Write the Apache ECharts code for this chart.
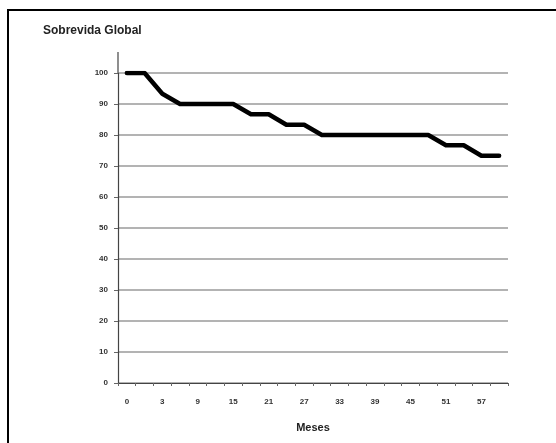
<!DOCTYPE html>
<html>
<head>
<meta charset="utf-8">
<script src="https://cdn.jsdelivr.net/npm/echarts@6/dist/echarts.min.js"></script>
<style>
html,body{margin:0;padding:0;background:#fff;}
#c{width:556px;height:443px;}
</style>
</head>
<body>
<div id="c"></div>
<script>
const categories = ['0','1','3','6','9','12','15','18','21','24','27','30','33','36','39','42','45','48','51','54','57','60'];
const survival = [100,100,93.3,90,90,90,90,86.7,86.7,83.3,83.3,80,80,80,80,80,80,80,76.7,76.7,73.3,73.3];
const yTicks = [0,10,20,30,40,50,60,70,80,90,100];

const chart = echarts.init(document.getElementById('c'), null, {renderer:'canvas'});
const font = '"Liberation Sans", Arial, sans-serif';
chart.setOption({
  animation:false,
  backgroundColor:'#fff',
  title:{
    text:'Sobrevida Global', left:38, top:20,
    textStyle:{fontFamily:font, fontSize:12, fontWeight:'bold', color:'#222'}
  },
  grid:{left:118, right:48, top:73, bottom:60},
  xAxis:{
    type:'category', data:categories, boundaryGap:true,
    name:'Meses', nameLocation:'middle', nameGap:39,
    nameTextStyle:{fontFamily:font, fontSize:11, fontWeight:'bold', color:'#222'},
    axisLine:{lineStyle:{color:'#444', width:1.2}},
    axisTick:{show:true, interval:0, length:3, lineStyle:{color:'#666'}},
    axisLabel:{interval:1, margin:15, fontFamily:font, fontSize:8, fontWeight:'bold', color:'#333'},
    splitLine:{show:false}
  },
  yAxis:{
    type:'value', min:yTicks[0], max:yTicks[yTicks.length-1], interval:10,
    axisLine:{show:true, lineStyle:{color:'#444', width:1.2}},
    axisTick:{show:true, length:4, lineStyle:{color:'#666'}},
    axisLabel:{margin:10, fontFamily:font, fontSize:8, fontWeight:'bold', color:'#333'},
    splitLine:{lineStyle:{color:'#9a9a9a', width:1.5}}
  },
  graphic:[
    {type:'rect', shape:{x:8, y:10, width:600, height:500}, style:{fill:'none', stroke:'#000', lineWidth:2}, z:100},
    {type:'line', shape:{x1:118, y1:52, x2:118, y2:73}, style:{stroke:'#444', lineWidth:1.2}}
  ],
  series:[{
    type:'line', data:survival, smooth:false, symbol:'none',
    lineStyle:{color:'#000', width:4.5, join:'round', cap:'round'}
  }]
});
</script>
</body>
</html>
